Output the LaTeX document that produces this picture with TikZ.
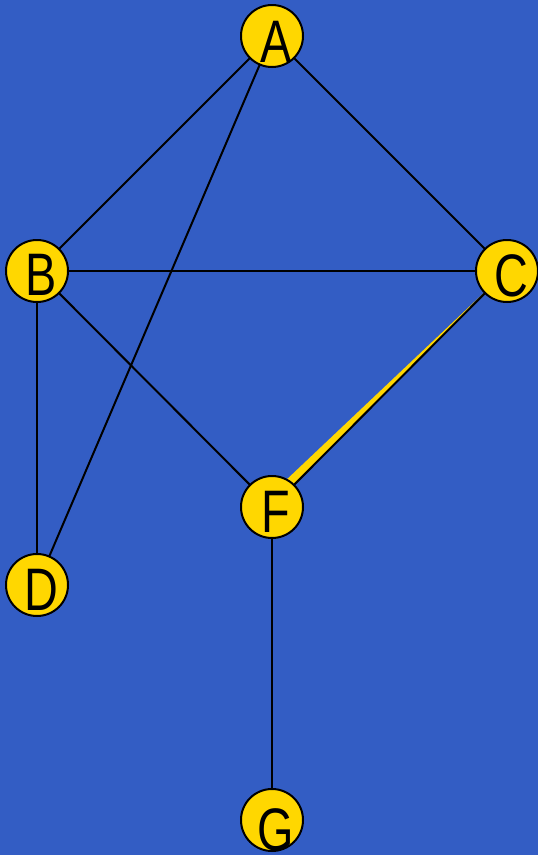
\documentclass[tikz,border=0pt]{standalone}
\usepackage{fontspec}
\setmainfont{Liberation Sans}
\usetikzlibrary{calc}
\definecolor{bgblue}{RGB}{51,93,196}
\definecolor{gold}{RGB}{255,215,0}
\begin{document}
\begin{tikzpicture}[x=1pt,y=-1pt,
  vert/.style={circle,draw=black,fill=gold,line width=2pt,minimum size=62pt,inner sep=0pt},
  lbl/.style={inner sep=0pt,font=\fontsize{60}{60}\selectfont,xscale=0.78},
  edge/.style={draw=black,line width=2pt}]
\fill[bgblue] (0,0) rectangle (538,855);
\useasboundingbox (0,0) rectangle (538,855);
\coordinate (pA) at (272,36);
\coordinate (pB) at (37,271);
\coordinate (pC) at (507,271);
\coordinate (pD) at (37,585);
\coordinate (pF) at (272,507);
\coordinate (pG) at (272,820);
% yellow wedge along C--F
\fill[gold] (pC) -- (pF) -- ($(pF)+(-7,-7)$) -- cycle;
\draw[edge] (pA) -- (pB);
\draw[edge] (pA) -- (pC);
\draw[edge] (pA) -- (pD);
\draw[edge] (pB) -- (pC);
\draw[edge] (pB) -- (pD);
\draw[edge] (pB) -- (pF);
\draw[edge] (pC) -- (pF);
\draw[edge] (pF) -- (pG);
\node[vert] (A) at (pA) {};
\node[vert] (B) at (pB) {};
\node[vert] (C) at (pC) {};
\node[vert] (D) at (pD) {};
\node[vert] (F) at (pF) {};
\node[vert] (G) at (pG) {};
\node[lbl] (lA) at ($(pA)+(4,6)$) {A};
\node[lbl] (lB) at ($(pB)+(4,4)$) {B};
\node[lbl] (lC) at ($(pC)+(4,5)$) {C};
\node[lbl] (lD) at ($(pD)+(4,5)$) {D};
\node[lbl] (lF) at ($(pF)+(4,5)$) {F};
\node[lbl] (lG) at ($(pG)+(4,10)$) {G};
\end{tikzpicture}
\end{document}
